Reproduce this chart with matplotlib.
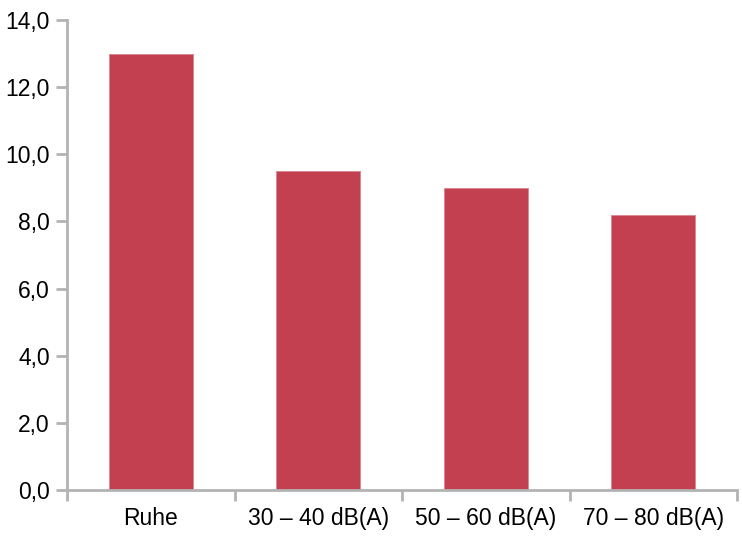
import matplotlib.pyplot as plt
import numpy as np

categories = ["Ruhe", "30 – 40 dB(A)", "50 – 60 dB(A)", "70 – 80 dB(A)"]
values = [13.0, 9.5, 9.0, 8.2]
yticks = [0, 2, 4, 6, 8, 10, 12, 14]

plt.rcParams['font.family'] = ['Liberation Sans', 'DejaVu Sans']

fig = plt.figure(figsize=(7.42, 5.4), dpi=100)
ax = fig.add_axes([0.0903, 0.0926, 0.9030, 0.8704])

x = np.arange(len(categories))
ax.bar(x, values, width=0.5, color='#c24050', edgecolor='#d9848e', linewidth=0.6)

ax.set_xlim(-0.5, len(categories) - 0.5)
ax.set_ylim(0, 14)
ax.set_yticks(yticks)
ax.set_yticklabels(["{:.1f}".format(v).replace('.', ',') for v in yticks])
ax.set_xticks(x)
ax.set_xticklabels(categories)
ax.set_xticks(np.arange(-0.5, len(categories)), minor=True)

grey = '#b3b3b3'
for s in ['top', 'right']:
    ax.spines[s].set_visible(False)
for s in ['left', 'bottom']:
    ax.spines[s].set_color(grey)
    ax.spines[s].set_linewidth(2)

ax.tick_params(axis='x', which='major', length=0, pad=12, labelsize=16.5)
ax.tick_params(axis='x', which='minor', length=8, width=2, color=grey)
ax.tick_params(axis='y', length=8, width=2, color=grey, pad=4.5, labelsize=16.5)

fig.savefig('out.png', dpi=100)
